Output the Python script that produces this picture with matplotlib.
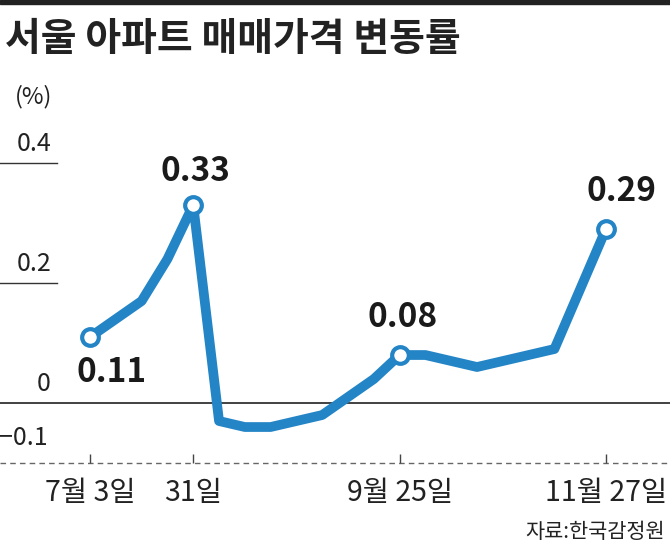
import numpy as np
import matplotlib
matplotlib.use('Agg')
import matplotlib.pyplot as plt

plt.rcParams['font.family'] = ['Noto Sans CJK KR', 'DejaVu Sans']

# weekly Seoul apartment price change (%), Jul 3 ~ Nov 27
values = [0.11, 0.14, 0.17, 0.24, 0.33,
          -0.03, -0.04, -0.04, -0.03, -0.02, 0.01, 0.04, 0.08,
          0.08, 0.07, 0.06, 0.07, 0.08, 0.09, 0.19, 0.29]
tick_idx = [0, 4, 12, 20]
tick_labels = ['7월 3일', '31일', '9월 25일', '11월 27일']
ytick_vals = [0.4, 0.2, 0, -0.1]
ytick_labels = ['0.4', '0.2', '0', '\u22120.1']
# labelled points and text offsets (pixels, y up)
label_idx = [0, 4, 12, 20]
label_off = [(22, -35), (2, 34), (3, 38), (15, 38)]

blue = '#2384c6'
x = np.arange(len(values))

fig = plt.figure(figsize=(6.7, 5.49), dpi=100)
ax = fig.add_axes([0, 0, 1, 1])
ax.set_xlim(-3.49, 22.48)
ax.set_ylim(-0.2433, 0.6717)
ax.axis('off')

# top bar
fig.patches.append(plt.Rectangle((0, 1 - 4/549), 1, 4/549, transform=fig.transFigure,
                                 color='#222222', zorder=5))
fig.text(5/670, 1 - 40/549, '서울 아파트 매매가격 변동률', fontsize=28,
         fontweight='bold', color='#222222', ha='left', va='center')

# y axis pieces
for yv in [0.4, 0.2]:
    ax.axhline(yv, xmin=0, xmax=57/670, color='#333333', lw=1.0)
ax.axhline(0, color='#333333', lw=1.3)
ax.axhline(-0.1, color='#666666', lw=1.0, ls=(0, (4, 3)))
ax.vlines(tick_idx, -0.1, -0.085, color='#444444', lw=1.0)

for yv, lab in zip(ytick_vals, ytick_labels):
    if yv < 0:
        ax.text(48/670, yv + 0.042, lab, transform=ax.get_yaxis_transform(),
                ha='right', va='center', fontsize=18, color='#222222')
    else:
        ax.text(51/670, yv + 0.032, lab, transform=ax.get_yaxis_transform(),
                ha='right', va='center', fontsize=18, color='#222222')
ax.text(52/670, 0.51, '(%)', transform=ax.get_yaxis_transform(),
        ha='right', va='center', fontsize=17, color='#222222')

for i, lab in zip(tick_idx, tick_labels):
    ax.text(i, -0.15, lab, ha='center', va='center', fontsize=20.5, color='#222222')

# line
ax.plot(x, values, color=blue, lw=7, solid_joinstyle='round',
        solid_capstyle='round', zorder=3)
ax.plot(x[label_idx], np.array(values)[label_idx], 'o', ms=12, mfc='white',
        mec=blue, mew=3, zorder=4)
for i, off in zip(label_idx, label_off):
    ax.annotate(f'{values[i]:.2f}', (x[i], values[i]), xytext=off,
                textcoords='offset pixels', ha='center', va='center',
                fontsize=24, fontweight='bold', color='#1a1a1a')

fig.text(665/670, 1 - 532/549, '자료:한국감정원', fontsize=15, color='#222222',
         ha='right', va='center')

fig.savefig('out.png', dpi=100)
